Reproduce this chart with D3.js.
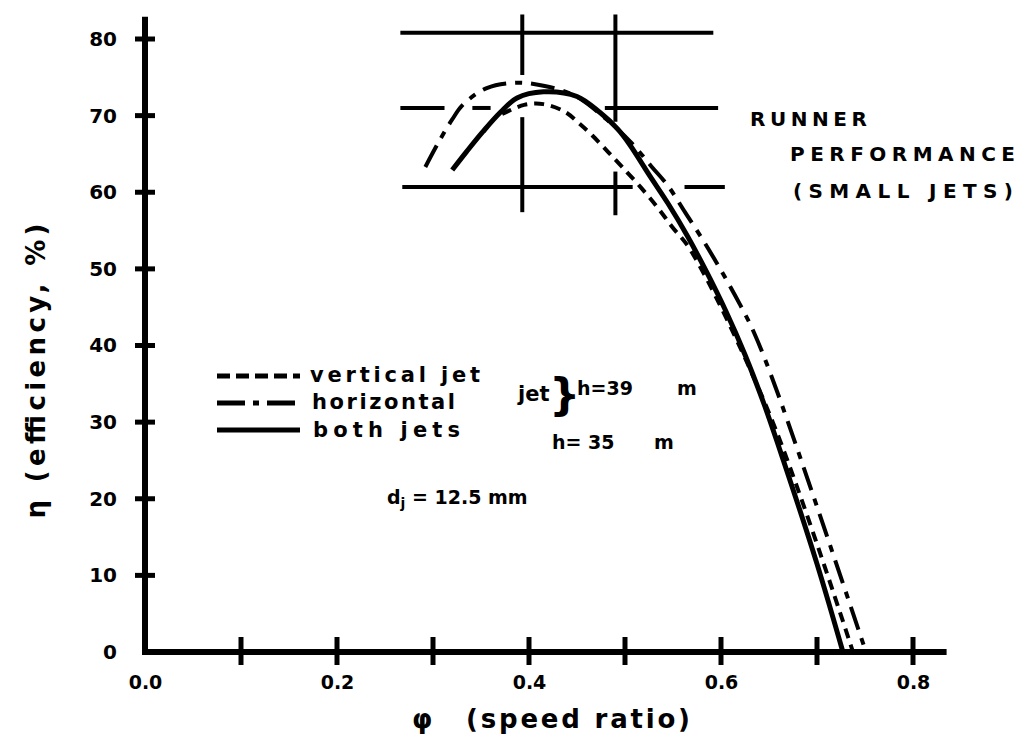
<!DOCTYPE html>
<html><head><meta charset="utf-8">
<script src="https://cdn.jsdelivr.net/npm/d3@7"></script>
<style>body{margin:0;background:#fff}text{font-family:"DejaVu Sans",sans-serif;font-weight:bold;fill:#000}</style>
</head><body>
<svg id="c" width="1020" height="751"></svg>
<script>
// ---- data ----
const bothPhi = [0.320,0.335,0.352,0.370,0.3875,0.415,0.450,0.474,0.492,0.505,0.525,0.545,0.565,0.585,0.605,0.625,0.645,0.665,0.700,0.727];
const bothEta = [62.9,65.3,67.9,70.4,72.3,73.1,72.5,70.4,68.3,66.2,62.3,58.5,54.3,49.6,44.5,38.8,32.3,25.0,11.5,0];
const vertPhi = [0.372,0.395,0.415,0.4375,0.453,0.466,0.482,0.497,0.516,0.534,0.549,0.568,0.651,0.7375];
const vertEta = [70.2,71.4,71.5,70.5,68.9,67.4,65.3,63.3,60.7,58.0,55.5,52.5,30.9,0];
const horPhi = [0.292,0.307,0.320,0.331,0.356,0.3875,0.415,0.448,0.479,0.507,0.528,0.545,0.5625,0.581,0.601,0.620,0.634,0.659,0.751];
const horEta = [63.3,66.8,69.5,71.4,73.6,74.3,73.9,72.6,69.7,66.4,63.3,60.8,57.4,53.8,49.6,45.3,41.8,33.8,0];
const xTicks = [0.1,0.2,0.3,0.4,0.5,0.6,0.7,0.8];
const xTickLabels = ["0.0","0.2","0.4","0.6","0.8"];
const xLabelValues = [0,0.2,0.4,0.6,0.8];
const yTicks = [10,20,30,40,50,60,70,80];
const yTickLabels = ["0","10","20","30","40","50","60","70","80"];
// inset grid: [eta, phiStart, phiEnd] and [phi, etaStart, etaEnd]
const gridH = [[80.8,0.266,0.592],[71.0,0.266,0.312],[71.0,0.341,0.360],[71.0,0.479,0.597],[60.7,0.268,0.508],[60.7,0.562,0.604]];
const gridV = [[0.393,83.2,75.3],[0.393,69.8,57.4],[0.490,83.2,69.2],[0.490,62.7,57.0]];

// ---- scales ----
const x = d3.scaleLinear().domain([0,0.8]).range([145,913]);
const y = d3.scaleLinear().domain([0,80]).range([652,39]);
const svg = d3.select("#c");

// grid
svg.selectAll(".gh").data(gridH).join("line")
  .attr("x1",d=>x(d[1])).attr("x2",d=>x(d[2])).attr("y1",d=>y(d[0])).attr("y2",d=>y(d[0]))
  .attr("stroke","#000").attr("stroke-width",4);
svg.selectAll(".gv").data(gridV).join("line")
  .attr("x1",d=>x(d[0])).attr("x2",d=>x(d[0])).attr("y1",d=>y(d[1])).attr("y2",d=>y(d[2]))
  .attr("stroke","#000").attr("stroke-width",4);

// axes lines
svg.append("line").attr("x1",x(0)).attr("x2",x(0)).attr("y1",y(0)).attr("y2",y(82.9))
  .attr("stroke","#000").attr("stroke-width",6);
svg.append("line").attr("x1",x(0)-3).attr("x2",x(0.835)).attr("y1",y(0)).attr("y2",y(0))
  .attr("stroke","#000").attr("stroke-width",6);
svg.selectAll(".yt").data(yTicks).join("line")
  .attr("x1",x(0)-10).attr("x2",x(0)+10).attr("y1",d=>y(d)).attr("y2",d=>y(d))
  .attr("stroke","#000").attr("stroke-width",5);
svg.selectAll(".xt").data(xTicks).join("line")
  .attr("x1",d=>x(d)).attr("x2",d=>x(d)).attr("y1",y(0)-15).attr("y2",y(0)+13)
  .attr("stroke","#000").attr("stroke-width",5);

// tick labels via d3 axes
const ya = svg.append("g").attr("transform",`translate(${x(0)-25},0)`)
  .call(d3.axisLeft(y).tickValues([0,...yTicks]).tickSize(0).tickFormat((d,i)=>yTickLabels[i]));
ya.select(".domain").remove();
ya.selectAll("text").attr("font-size",20).attr("font-family","DejaVu Sans").attr("font-weight","bold");
const xa = svg.append("g").attr("transform",`translate(0,${y(0)+20})`)
  .call(d3.axisBottom(x).tickValues(xLabelValues).tickSize(0).tickFormat((d,i)=>xTickLabels[i]));
xa.select(".domain").remove();
xa.selectAll("text").attr("font-size",19).attr("font-family","DejaVu Sans").attr("font-weight","bold");

// curves
const line = (px,py)=>d3.line().x((d,i)=>x(px[i])).y((d,i)=>y(py[i])).curve(d3.curveCatmullRom.alpha(0.5))(px);
svg.append("path").attr("d",line(bothPhi,bothEta)).attr("fill","none").attr("stroke","#000").attr("stroke-width",5);
svg.append("path").attr("d",line(vertPhi,vertEta)).attr("fill","none").attr("stroke","#000").attr("stroke-width",4).attr("stroke-dasharray","10,7");
svg.append("path").attr("d",line(horPhi,horEta)).attr("fill","none").attr("stroke","#000").attr("stroke-width",4).attr("stroke-dasharray","24,9,7,9");

// legend
const lg = [{y:376,dash:"13,6"},{y:403,dash:"28,8,6,8"},{y:430,dash:null}];
lg.forEach(d=>{
  const l = svg.append("line").attr("x1",217).attr("x2",300).attr("y1",d.y).attr("y2",d.y)
    .attr("stroke","#000").attr("stroke-width",5);
  if(d.dash) l.attr("stroke-dasharray",d.dash);
});
const T=(t,xx,yy,fs,extra)=>{const e=svg.append("text").attr("x",xx).attr("y",yy).attr("font-size",fs).text(t);if(extra)extra(e);return e;};
T("vertical  jet",310,382,21,e=>e.attr("textLength",170));
T("horizontal",312,409,21,e=>e.attr("textLength",143));
T("jet",518,401,21);
T("}",549,410,44,e=>e.attr("font-weight","normal"));
T("h=39",577,395,19);
T("m",677,395,19);
T("both jets",313,437,21,e=>e.attr("textLength",147));
T("h= 35",552,449,19);
T("m",654,449,19);
const dj = svg.append("text").attr("x",387).attr("y",504).attr("font-size",19);
dj.append("tspan").text("d");
dj.append("tspan").attr("font-size",14).attr("dy",4).text("j");
dj.append("tspan").attr("dy",-4).text("  =  12.5 mm");

// right title
T("RUNNER",750,126,20,e=>e.attr("textLength",117));
T("PERFORMANCE",790,161,20,e=>e.attr("textLength",225));
T("(SMALL  JETS)",793,198,20,e=>e.attr("textLength",220));

// axis titles
T("φ",412,728,26,e=>e.attr("font-weight","normal"));
T("(speed ratio)",466,728,26,e=>e.attr("font-weight","normal").attr("textLength",224));
svg.append("text").attr("transform","translate(45,371) rotate(-90)").attr("text-anchor","middle")
  .attr("font-size",26).attr("textLength",295).text("η (efficiency, %)");
</script>
</body></html>
